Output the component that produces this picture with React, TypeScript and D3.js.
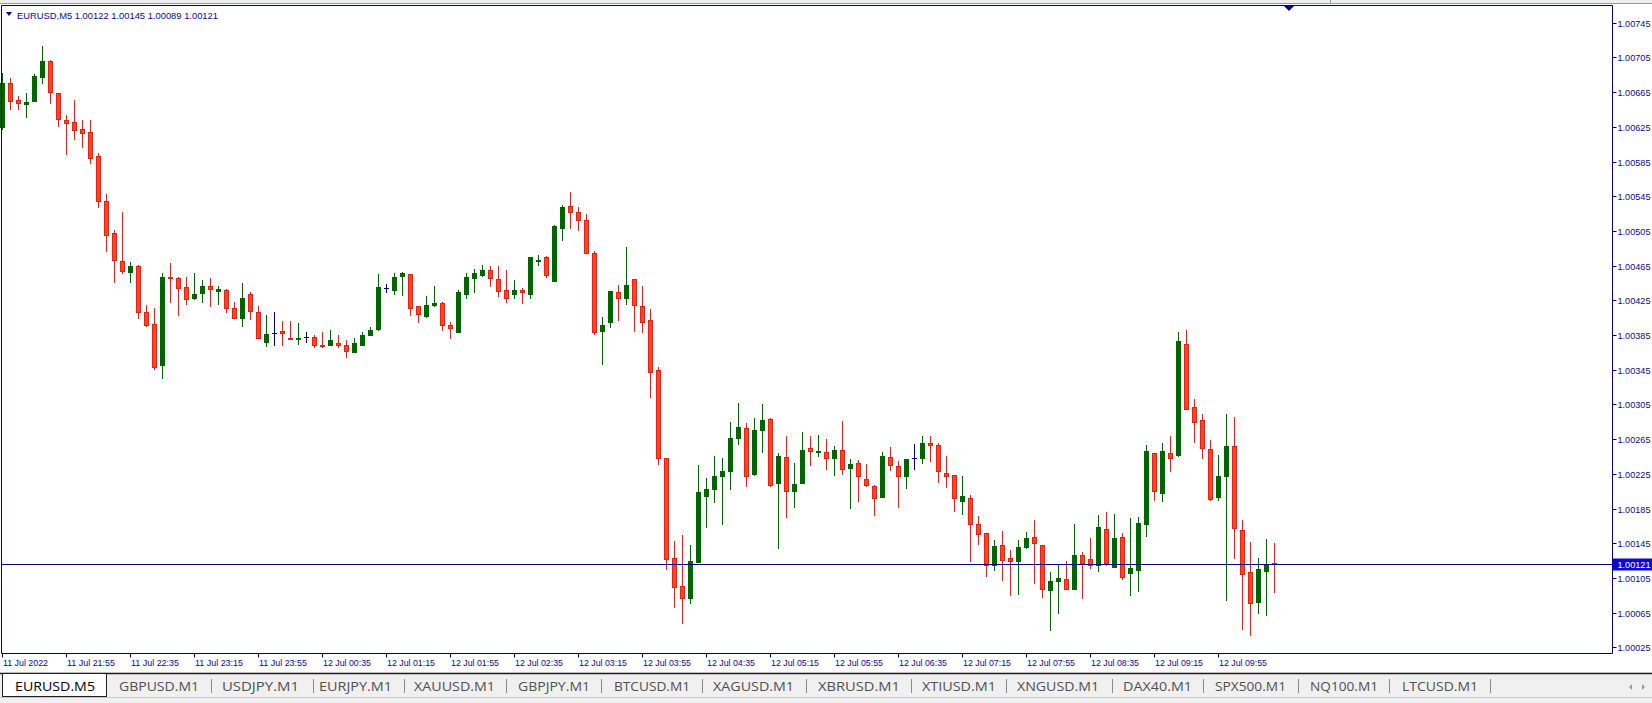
import React from "react";
import * as d3 from "d3";

// ---------- DATA ----------
const symbolLabel = "EURUSD,M5";
const lastBarOHLC = ["1.00122", "1.00145", "1.00089", "1.00121"];
const currentPrice = 1.00121;

const opens = [
  1.00625, 1.00676, 1.00656, 1.00651, 1.00655, 1.00682, 1.00701, 1.00664, 1.00633, 1.00631,
  1.00622, 1.00619, 1.00591, 1.00539, 1.00503, 1.0047, 1.00458, 1.00465, 1.00411, 1.00398,
  1.0035, 1.00452, 1.00451, 1.0044, 1.00428, 1.00433, 1.00442, 1.00436, 1.00437, 1.00416,
  1.00405, 1.00432, 1.00412, 1.00377, 1.00387, 1.0039, 1.00382, 1.0038, 1.00383, 1.00383,
  1.00374, 1.00373, 1.00376, 1.00373, 1.00365, 1.00374, 1.00385, 1.00392, 1.00439, 1.00437,
  1.00453, 1.00455, 1.00418, 1.00407, 1.0042, 1.00422, 1.00397, 1.00389, 1.00432, 1.00451,
  1.00454, 1.0046, 1.0045, 1.00437, 1.00432, 1.00437, 1.00432, 1.0047, 1.00475, 1.00447,
  1.00508, 1.00534, 1.00527, 1.00518, 1.0048, 1.0039, 1.004, 1.00435, 1.00428, 1.00449,
  1.00419, 1.00402, 1.00345, 1.00243, 1.00128, 1.00096, 1.00082, 1.00123, 1.00199, 1.00208,
  1.00223, 1.00228, 1.00266, 1.00278, 1.00225, 1.00275, 1.00288, 1.00214, 1.00244, 1.00205,
  1.00214, 1.00255, 1.0025, 1.0025, 1.00243, 1.00253, 1.00232, 1.00238, 1.00219, 1.00211,
  1.00198, 1.00244, 1.00234, 1.00223, 1.00243, 1.00243, 1.0026, 1.00258, 1.00226, 1.00224,
  1.00194, 1.00197, 1.00167, 1.00157, 1.0012, 1.00143, 1.00128, 1.00125, 1.00141, 1.00152,
  1.00143, 1.00091, 1.00101, 1.00104, 1.00092, 1.00131, 1.00127, 1.0012, 1.00161, 1.00118,
  1.00152, 1.00111, 1.00114, 1.00167, 1.00249, 1.00203, 1.00249, 1.00247, 1.00375, 1.00302,
  1.00287, 1.00254, 1.00198, 1.00223, 1.00257, 1.0016, 1.00112, 1.00077, 1.00113, 1.00122,
];
const highs = [
  1.00687, 1.00681, 1.00661, 1.00664, 1.00686, 1.00718, 1.00702, 1.00664, 1.00639, 1.00656,
  1.00633, 1.00633, 1.00595, 1.00547, 1.00506, 1.00527, 1.00469, 1.00466, 1.0042, 1.00416,
  1.00456, 1.00468, 1.00452, 1.00452, 1.00457, 1.00448, 1.00451, 1.00441, 1.00438, 1.00423,
  1.00445, 1.00434, 1.00418, 1.00408, 1.00411, 1.00401, 1.00401, 1.00399, 1.00389, 1.00385,
  1.00389, 1.00391, 1.00385, 1.00379, 1.00381, 1.00388, 1.00394, 1.00455, 1.00444, 1.00456,
  1.00458, 1.00455, 1.00419, 1.0043, 1.00442, 1.00423, 1.004, 1.00437, 1.00456, 1.00461,
  1.00466, 1.00464, 1.00465, 1.0046, 1.00448, 1.00439, 1.00475, 1.00477, 1.00476, 1.00512,
  1.00535, 1.0055, 1.00532, 1.00524, 1.00482, 1.00406, 1.00436, 1.00443, 1.00487, 1.00449,
  1.00442, 1.00415, 1.00348, 1.00243, 1.00147, 1.00154, 1.00143, 1.00235, 1.0022, 1.00246,
  1.00243, 1.00285, 1.00307, 1.00283, 1.00289, 1.00306, 1.00289, 1.00249, 1.00269, 1.00237,
  1.00273, 1.00269, 1.0027, 1.00265, 1.00257, 1.00286, 1.00242, 1.00241, 1.00236, 1.00212,
  1.0025, 1.00256, 1.0024, 1.00242, 1.00259, 1.00268, 1.00268, 1.00261, 1.00245, 1.00224,
  1.00223, 1.00201, 1.00176, 1.00157, 1.00149, 1.00159, 1.00137, 1.00149, 1.00158, 1.00172,
  1.00143, 1.00112, 1.0012, 1.00124, 1.00167, 1.00135, 1.00151, 1.00177, 1.00181, 1.00179,
  1.00157, 1.00174, 1.00175, 1.00258, 1.00249, 1.00261, 1.00268, 1.00388, 1.00391, 1.00311,
  1.00294, 1.00264, 1.00247, 1.00294, 1.0029, 1.00172, 1.00146, 1.00128, 1.0015, 1.00145,
];
const lows = [
  1.00622, 1.00645, 1.00645, 1.00636, 1.00655, 1.00676, 1.00652, 1.00626, 1.00594, 1.00611,
  1.00602, 1.00583, 1.00533, 1.00482, 1.00446, 1.00457, 1.00446, 1.00405, 1.00395, 1.00346,
  1.00336, 1.00423, 1.00408, 1.00421, 1.00426, 1.00423, 1.00419, 1.00421, 1.00411, 1.00405,
  1.00395, 1.00404, 1.00382, 1.00372, 1.00374, 1.00374, 1.0038, 1.00375, 1.00377, 1.00371,
  1.00371, 1.00373, 1.00371, 1.0036, 1.00365, 1.00374, 1.00385, 1.00391, 1.00435, 1.00432,
  1.00431, 1.00408, 1.004, 1.00406, 1.00419, 1.00391, 1.00382, 1.00389, 1.00428, 1.00434,
  1.00453, 1.00442, 1.0043, 1.00423, 1.00428, 1.00422, 1.00428, 1.00466, 1.00452, 1.00447,
  1.00494, 1.00508, 1.00506, 1.00479, 1.00386, 1.00351, 1.00394, 1.00402, 1.00421, 1.0039,
  1.00389, 1.00314, 1.00236, 1.00115, 1.00071, 1.00053, 1.00076, 1.00123, 1.00164, 1.00193,
  1.00167, 1.00207, 1.00259, 1.00211, 1.00224, 1.0025, 1.00211, 1.0014, 1.00175, 1.00187,
  1.00214, 1.00235, 1.00245, 1.0023, 1.00224, 1.00225, 1.00186, 1.00194, 1.00211, 1.00177,
  1.00198, 1.00229, 1.00187, 1.00209, 1.0023, 1.00237, 1.0024, 1.00215, 1.0021, 1.00182,
  1.00179, 1.00124, 1.00144, 1.00107, 1.00114, 1.00103, 1.00085, 1.00086, 1.0014, 1.00099,
  1.00083, 1.00045, 1.00064, 1.00092, 1.00092, 1.00082, 1.00116, 1.00113, 1.0012, 1.00117,
  1.00104, 1.00085, 1.0009, 1.00153, 1.00195, 1.00194, 1.00228, 1.00246, 1.003, 1.00262,
  1.00243, 1.00195, 1.00195, 1.0008, 1.00128, 1.00046, 1.00039, 1.00065, 1.00062, 1.00089,
];
const closes = [
  1.00676, 1.00655, 1.00653, 1.00654, 1.00683, 1.00701, 1.00665, 1.00634, 1.00629, 1.00621,
  1.00618, 1.00589, 1.0054, 1.005, 1.00472, 1.00459, 1.00464, 1.00411, 1.00397, 1.00348,
  1.00452, 1.00451, 1.00439, 1.00427, 1.00432, 1.00442, 1.00438, 1.00438, 1.00416, 1.00405,
  1.00428, 1.00413, 1.00382, 1.00386, 1.00387, 1.00387, 1.00381, 1.00382, 1.00383, 1.00373,
  1.00373, 1.00379, 1.00374, 1.00366, 1.00376, 1.00385, 1.00391, 1.0044, 1.00439, 1.00452,
  1.00456, 1.00416, 1.00409, 1.0042, 1.00422, 1.00397, 1.00393, 1.00434, 1.00452, 1.00456,
  1.0046, 1.00451, 1.00436, 1.00428, 1.00437, 1.00434, 1.00475, 1.00472, 1.00454, 1.00511,
  1.00533, 1.00527, 1.00518, 1.00479, 1.00388, 1.00397, 1.00436, 1.00428, 1.00443, 1.0042,
  1.004, 1.00342, 1.00243, 1.00127, 1.00094, 1.00082, 1.00125, 1.00204, 1.00208, 1.00223,
  1.00228, 1.00266, 1.00279, 1.00223, 1.00276, 1.00287, 1.00212, 1.00246, 1.00205, 1.00213,
  1.00253, 1.00251, 1.00251, 1.00243, 1.00253, 1.00231, 1.00236, 1.00222, 1.00212, 1.00197,
  1.00245, 1.00235, 1.00222, 1.00242, 1.00243, 1.0026, 1.00258, 1.00228, 1.00222, 1.00197,
  1.00199, 1.00167, 1.00156, 1.0012, 1.00142, 1.00126, 1.00124, 1.00141, 1.00151, 1.00145,
  1.00092, 1.00102, 1.00105, 1.00092, 1.00131, 1.00122, 1.0012, 1.00164, 1.00122, 1.00151,
  1.00106, 1.00116, 1.00168, 1.00251, 1.00205, 1.00251, 1.00243, 1.00378, 1.003, 1.00285,
  1.00255, 1.00196, 1.00223, 1.00257, 1.00163, 1.0011, 1.00076, 1.00115, 1.00121, 1.00121,
];

const timeLabels = [
  "11 Jul 2022", "11 Jul 21:55", "11 Jul 22:35", "11 Jul 23:15", "11 Jul 23:55",
  "12 Jul 00:35", "12 Jul 01:15", "12 Jul 01:55", "12 Jul 02:35", "12 Jul 03:15",
  "12 Jul 03:55", "12 Jul 04:35", "12 Jul 05:15", "12 Jul 05:55", "12 Jul 06:35",
  "12 Jul 07:15", "12 Jul 07:55", "12 Jul 08:35", "12 Jul 09:15", "12 Jul 09:55",
];
const barsPerTimeLabel = 8;

const priceTicks = [
  1.00025, 1.00065, 1.00105, 1.00145, 1.00185, 1.00225, 1.00265, 1.00305, 1.00345, 1.00385,
  1.00425, 1.00465, 1.00505, 1.00545, 1.00585, 1.00625, 1.00665, 1.00705, 1.00745,
];

const tabNames = [
  "EURUSD.M5", "GBPUSD.M1", "USDJPY.M1", "EURJPY.M1", "XAUUSD.M1", "GBPJPY.M1", "BTCUSD.M1",
  "XAGUSD.M1", "XBRUSD.M1", "XTIUSD.M1", "XNGUSD.M1", "DAX40.M1", "SPX500.M1", "NQ100.M1", "LTCUSD.M1",
];
// layout of tab text (start,end) in pixels
const tabSpans: [number, number][] = [
  [15, 95], [119, 199], [222, 299], [319, 392], [414, 495], [518, 590], [614, 690],
  [713, 794], [818, 900], [922, 996], [1017, 1099], [1123, 1192], [1215, 1286], [1310, 1378], [1402, 1478],
];
const tabSeps = [211, 313, 404, 506, 601, 702, 806, 911, 1006, 1112, 1203, 1298, 1389, 1490];

// ---------- COLORS ----------
const NAVY = "#000080";
const TEXT_BLUE = "#0a0a86";
const BULL = "#006400";
const BEAR_FILL = "#ff4614";
const BEAR_LINE = "#e3221a";

export default function App() {
  const W = 1652;
  const H = 703;
  const n = opens.length;
  const plotLeft = 1.5;
  const plotRight = 1612.5;
  const plotTop = 5.5;
  const plotBottom = 653.5;

  const x = d3
    .scaleBand<number>()
    .domain(d3.range(n))
    .range([-1.5, -1.5 + 8 * n]);
  const y = d3.scaleLinear().domain([1.00025, 1.00745]).range([647.3, 22.7]);
  const fmt = d3.format(".5f");
  const cx = (i: number) => (x(i) as number) + 4;
  const py = (v: number) => Math.round(y(v));

  const candles = d3.range(n).map((i) => {
    const o = opens[i], h = highs[i], l = lows[i], c = closes[i];
    const xc = cx(i);
    const yo = py(o), yc = py(c), yh = py(h), yl = py(l);
    if (c > o) {
      return (
        <g key={i}>
          <line x1={xc} x2={xc} y1={yh} y2={yl + 1} stroke={BULL} strokeWidth={1} />
          <rect x={xc - 2.5} y={yc} width={5} height={Math.max(1, yo - yc + 1)} fill={BULL} />
        </g>
      );
    } else if (c < o) {
      return (
        <g key={i}>
          <line x1={xc} x2={xc} y1={yh} y2={yl + 1} stroke={BEAR_LINE} strokeWidth={1} />
          <rect
            x={xc - 2}
            y={yo + 0.5}
            width={4}
            height={Math.max(1, yc - yo)}
            fill={BEAR_FILL}
            stroke={BEAR_LINE}
            strokeWidth={1}
          />
        </g>
      );
    }
    return (
      <g key={i}>
        <line x1={xc} x2={xc} y1={yh} y2={yl + 1} stroke={NAVY} strokeWidth={1} />
        <line x1={xc - 2.5} x2={xc + 2.5} y1={yo + 0.5} y2={yo + 0.5} stroke={NAVY} strokeWidth={1} />
      </g>
    );
  });

  const yCur = py(currentPrice) + 0.5;

  return (
    <div style={{ position: "absolute", left: 0, top: 0, width: W, height: H, background: "#fff" }}>
      <svg width={W} height={H} style={{ display: "block" }} fontFamily="'Liberation Sans', Arial, sans-serif">
        <rect x={0} y={0} width={W} height={H} fill="#ffffff" />
        {/* top strip */}
        <rect x={0} y={0} width={W} height={4} fill="#eeeeee" />
        <line x1={0} x2={W} y1={3.5} y2={3.5} stroke="#9a9a9a" />
        <line x1={1330.5} x2={1330.5} y1={0} y2={3} stroke="#9a9a9a" />

        {/* candles */}
        <g>{candles}</g>

        {/* current price line */}
        <line x1={plotLeft} x2={plotRight} y1={yCur} y2={yCur} stroke={NAVY} strokeWidth={1} />

        {/* frame */}
        <path
          d={`M${plotLeft},${plotBottom}V${plotTop}H${plotRight}V${plotBottom}H${plotLeft}`}
          fill="none"
          stroke={NAVY}
          strokeWidth={1}
        />

        {/* shift marker */}
        <path d="M1284,6 L1294,6 L1289,11 Z" fill={NAVY} />

        {/* header */}
        <path d="M6,12 L12,12 L9,16 Z" fill={NAVY} />
        <text x={17} y={18.5} fontSize={9.5} fill={TEXT_BLUE} textLength={201} lengthAdjust="spacingAndGlyphs">
          {`${symbolLabel}  ${lastBarOHLC.join(" ")}`}
        </text>

        {/* price axis */}
        {priceTicks.map((t) => {
          const yy = py(t) + 0.5;
          return (
            <g key={t}>
              <line x1={plotRight} x2={plotRight + 4} y1={yy} y2={yy} stroke={NAVY} />
              <text x={1617.5} y={yy + 3.5} fontSize={9.5} fill={TEXT_BLUE} textLength={33} lengthAdjust="spacingAndGlyphs">
                {fmt(t)}
              </text>
            </g>
          );
        })}
        <rect x={plotRight} y={yCur - 6} width={W - plotRight} height={12} fill="#0a0ad2" />
        <text x={1617.5} y={yCur + 3.5} fontSize={9.5} fill="#ffffff" textLength={33} lengthAdjust="spacingAndGlyphs">
          {fmt(currentPrice)}
        </text>

        {/* time axis */}
        {timeLabels.map((lab, k) => {
          const xx = cx(k * barsPerTimeLabel);
          return (
            <g key={lab}>
              <line x1={xx} x2={xx} y1={plotBottom} y2={plotBottom + 4} stroke={NAVY} />
              <text
                x={xx + 0.5}
                y={666}
                fontSize={9.5}
                fill={TEXT_BLUE}
                textLength={k === 0 ? 45 : 48}
                lengthAdjust="spacingAndGlyphs"
              >
                {lab}
              </text>
            </g>
          );
        })}

        {/* tabs bar */}
        <rect x={0} y={672} width={W} height={31} fill="#f0f0f0" />
        <line x1={0} x2={W} y1={673.5} y2={673.5} stroke="#202020" strokeWidth={1.5} />
        <line x1={0} x2={W} y1={697.5} y2={697.5} stroke="#c8c8c8" />
        <rect x={2.5} y={673.5} width={104} height={23} fill="#ffffff" stroke="#202020" strokeWidth={1} />
        {tabNames.map((name, k) => {
          const [s, e] = tabSpans[k];
          return (
            <text
              key={name}
              x={s}
              y={691}
              fontSize={13}
              fontFamily="'Open Sans', 'Noto Sans', sans-serif"
              fill={k === 0 ? "#000000" : "#505050"}
              textLength={e - s}
              lengthAdjust="spacingAndGlyphs"
            >
              {name}
            </text>
          );
        })}
        {tabSeps.map((sx) => (
          <line key={sx} x1={sx + 0.5} x2={sx + 0.5} y1={679} y2={693} stroke="#8a8a8a" />
        ))}
        <path d="M1632,684 L1629,687 L1632,690 Z" fill="#9a9a9a" />
        <path d="M1642,684 L1645,687 L1642,690 Z" fill="#9a9a9a" />
      </svg>
    </div>
  );
}
